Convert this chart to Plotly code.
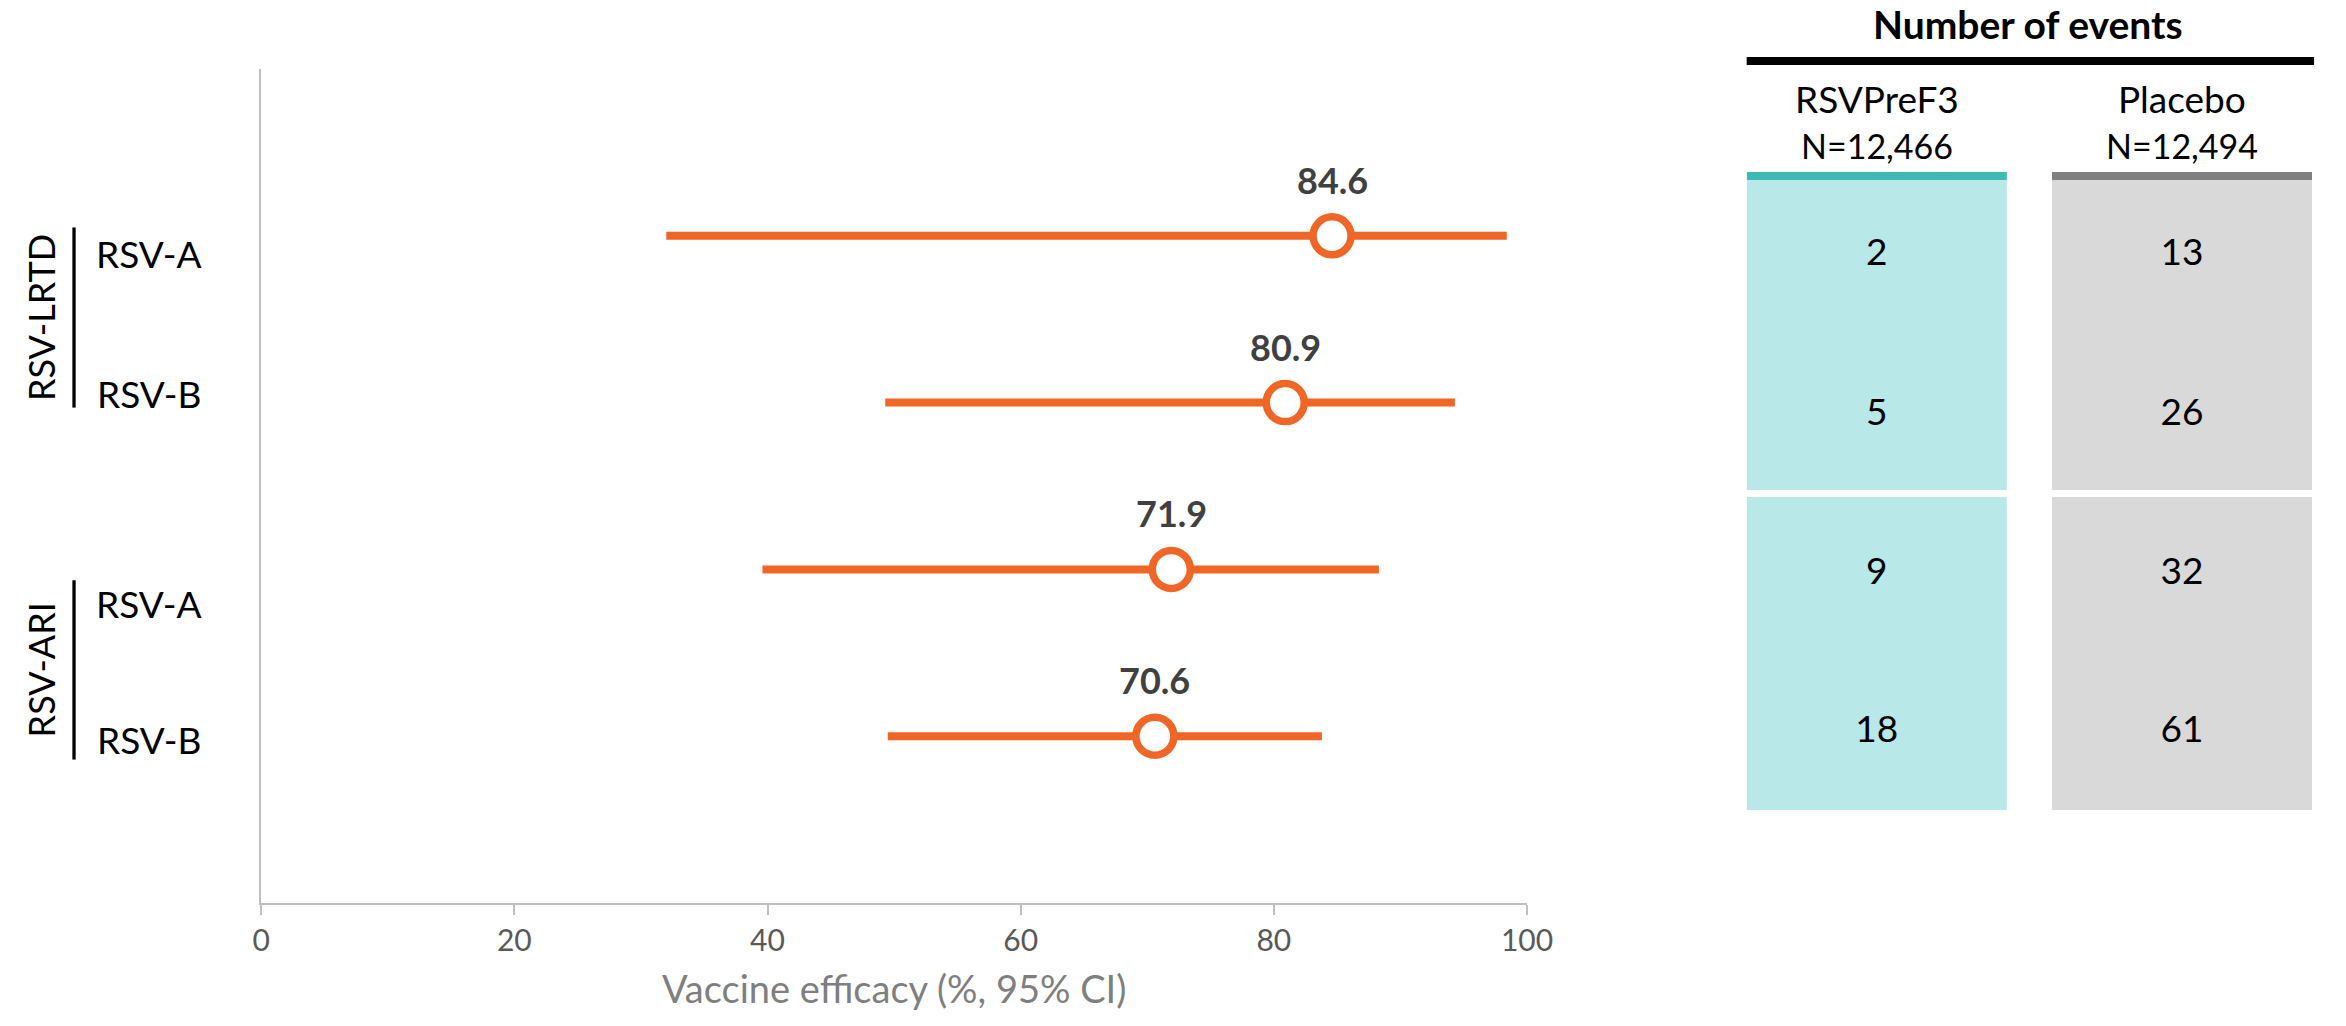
import plotly.graph_objects as go

W, H = 2346, 1026

# ---------------- data ----------------
outcomes = ["RSV-A", "RSV-B", "RSV-A", "RSV-B"]
groups = ["RSV-LRTD", "RSV-ARI"]
group_rows = [[0, 1], [2, 3]]
ve = [84.6, 80.9, 71.9, 70.6]
ci_low = [32.0, 49.3, 39.6, 49.5]
ci_high = [98.4, 94.3, 88.3, 83.8]
arms = ["RSVPreF3", "Placebo"]
arm_n = ["N=12,466", "N=12,494"]
events_vaccine = [2, 5, 9, 18]
events_placebo = [13, 26, 32, 61]
x_ticks = [0, 20, 40, 60, 80, 100]
table_title = "Number of events"
x_title = "Vaccine efficacy (%, 95% CI)"

# ---------------- style ----------------
FONT = "Lato, 'Open Sans', sans-serif"
ORANGE = "#EF6627"
TEAL_LIGHT = "#B8E8E8"
TEAL_DARK = "#3DBAB3"
GRAY_LIGHT = "#D9D9D9"
GRAY_DARK = "#808080"
AXIS_GRAY = "#BFBFBF"

rows = list(range(len(outcomes)))

def px(x):
    return x / W

def py(y):
    return 1 - y / H

fig = go.Figure()

# CI lines
for r, lo, hi in zip(rows, ci_low, ci_high):
    fig.add_trace(go.Scatter(
        x=[lo, hi], y=[r, r], mode="lines",
        line=dict(color=ORANGE, width=8), showlegend=False, hoverinfo="skip",
        xaxis="x", yaxis="y"))

# point estimates
fig.add_trace(go.Scatter(
    x=ve, y=rows, mode="markers",
    marker=dict(symbol="circle", size=38, color="white",
                line=dict(color=ORANGE, width=7.5)),
    showlegend=False, xaxis="x", yaxis="y"))

annotations = []
for r, v in zip(rows, ve):
    annotations.append(dict(
        x=v, y=r, xref="x", yref="y", text=f"{v:.1f}", showarrow=False,
        yshift=56, font=dict(family=FONT, size=36, color="#404040", weight="bold")))

# row labels
LABEL_SHIFT = [-18, 9, -34, -3]
for r, lab, s in zip(rows, outcomes, LABEL_SHIFT):
    annotations.append(dict(
        x=px(197), y=r, xref="paper", yref="y", text=lab, showarrow=False,
        xanchor="right", yanchor="middle", yshift=s,
        font=dict(family=FONT, size=37, color="black")))

# group brackets and labels
BRACKET_PAD = [(-0.05, 0.03), (0.065, 0.14)]
shapes = []
for g, rr, (p0, p1) in zip(groups, group_rows, BRACKET_PAD):
    y0 = rr[0] + p0
    y1 = rr[-1] + p1
    shapes.append(dict(type="line", xref="paper", yref="y",
                       x0=px(66), x1=px(66), y0=y0, y1=y1,
                       line=dict(color="black", width=3.3)))
    annotations.append(dict(
        x=px(32), y=(y0 + y1) / 2, xref="paper", yref="y", text=g,
        showarrow=False, textangle=-90, xanchor="center", yanchor="middle",
        font=dict(family=FONT, size=36, color="black")))

# ---------------- table (x2 axis on shared rows) ----------------
BLOCK_EDGES = [(-0.3345, 1.524), (1.566, 3.442)]
HEADER_BAR = (-0.3825, -0.3345)
BAR_W = 0.852
arm_fill = [TEAL_LIGHT, GRAY_LIGHT]
arm_top = [TEAL_DARK, GRAY_DARK]

for (b0, b1) in BLOCK_EDGES:
    fig.add_trace(go.Bar(
        x=[0, 1], y=[b1 - b0] * 2, base=[b0] * 2, width=BAR_W,
        marker=dict(color=arm_fill, line=dict(width=0)),
        showlegend=False, hoverinfo="skip", xaxis="x2", yaxis="y"))
fig.add_trace(go.Bar(
    x=[0, 1], y=[HEADER_BAR[1] - HEADER_BAR[0]] * 2, base=[HEADER_BAR[0]] * 2,
    width=BAR_W, marker=dict(color=arm_top, line=dict(width=0)),
    showlegend=False, hoverinfo="skip", xaxis="x2", yaxis="y"))

TABLE_TEXT_SHIFT = [0.12, 0.08, 0.03, -0.02]
for ai, counts in enumerate([events_vaccine, events_placebo]):
    fig.add_trace(go.Scatter(
        x=[ai] * len(counts), y=[r + s for r, s in zip(rows, TABLE_TEXT_SHIFT)],
        mode="text", text=[str(c) for c in counts], textposition="middle center",
        textfont=dict(family=FONT, size=37, color="black"),
        showlegend=False, hoverinfo="skip", xaxis="x2", yaxis="y"))

# table header
annotations.append(dict(
    x=px(2050), y=py(24), xref="paper", yref="paper", text=table_title,
    showarrow=False, xanchor="center", yanchor="middle",
    font=dict(family=FONT, size=39, color="black", weight="bold")))
shapes.append(dict(type="line", xref="paper", yref="paper",
                   x0=px(1764), x1=px(2340), y0=py(61), y1=py(61),
                   line=dict(color="black", width=8)))
for ai, (a, n) in enumerate(zip(arms, arm_n)):
    annotations.append(dict(
        x=ai, y=py(98), xref="x2", yref="paper", text=a, showarrow=False,
        xanchor="center", yanchor="middle",
        font=dict(family=FONT, size=37, color="black")))
    annotations.append(dict(
        x=ai, y=py(145), xref="x2", yref="paper", text=n, showarrow=False,
        xanchor="center", yanchor="middle",
        font=dict(family=FONT, size=34, color="black")))

fig.update_layout(
    width=W, height=H,
    margin=dict(l=0, r=0, t=0, b=0),
    paper_bgcolor="white", plot_bgcolor="rgba(0,0,0,0)",
    showlegend=False,
    barmode="overlay",
    xaxis=dict(
        domain=[px(256), px(1541)], range=[0, 100],
        tickvals=x_ticks, ticktext=[str(t) for t in x_ticks],
        ticks="outside", ticklen=10, tickwidth=2, tickcolor=AXIS_GRAY,
        showline=True, linecolor=AXIS_GRAY, linewidth=2,
        showgrid=False, zeroline=False,
        tickfont=dict(family=FONT, size=30, color="#595959"),
        title=dict(text=x_title, standoff=20,
                   font=dict(family=FONT, size=38, color="#7F7F7F")),
        anchor="y", fixedrange=True),
    yaxis=dict(
        domain=[py(903), py(69)], range=[4, -1],
        showline=True, linecolor=AXIS_GRAY, linewidth=2,
        showgrid=False, zeroline=False, showticklabels=False, ticks="",
        anchor="x", fixedrange=True),
    xaxis2=dict(
        domain=[px(1764), px(2338)], range=[-0.426, 1.426],
        visible=False, anchor="y", fixedrange=True),
    annotations=annotations,
    shapes=shapes,
)

fig.write_html("out.html", config={"displayModeBar": False},
               post_script="document.body.style.margin='0';")
